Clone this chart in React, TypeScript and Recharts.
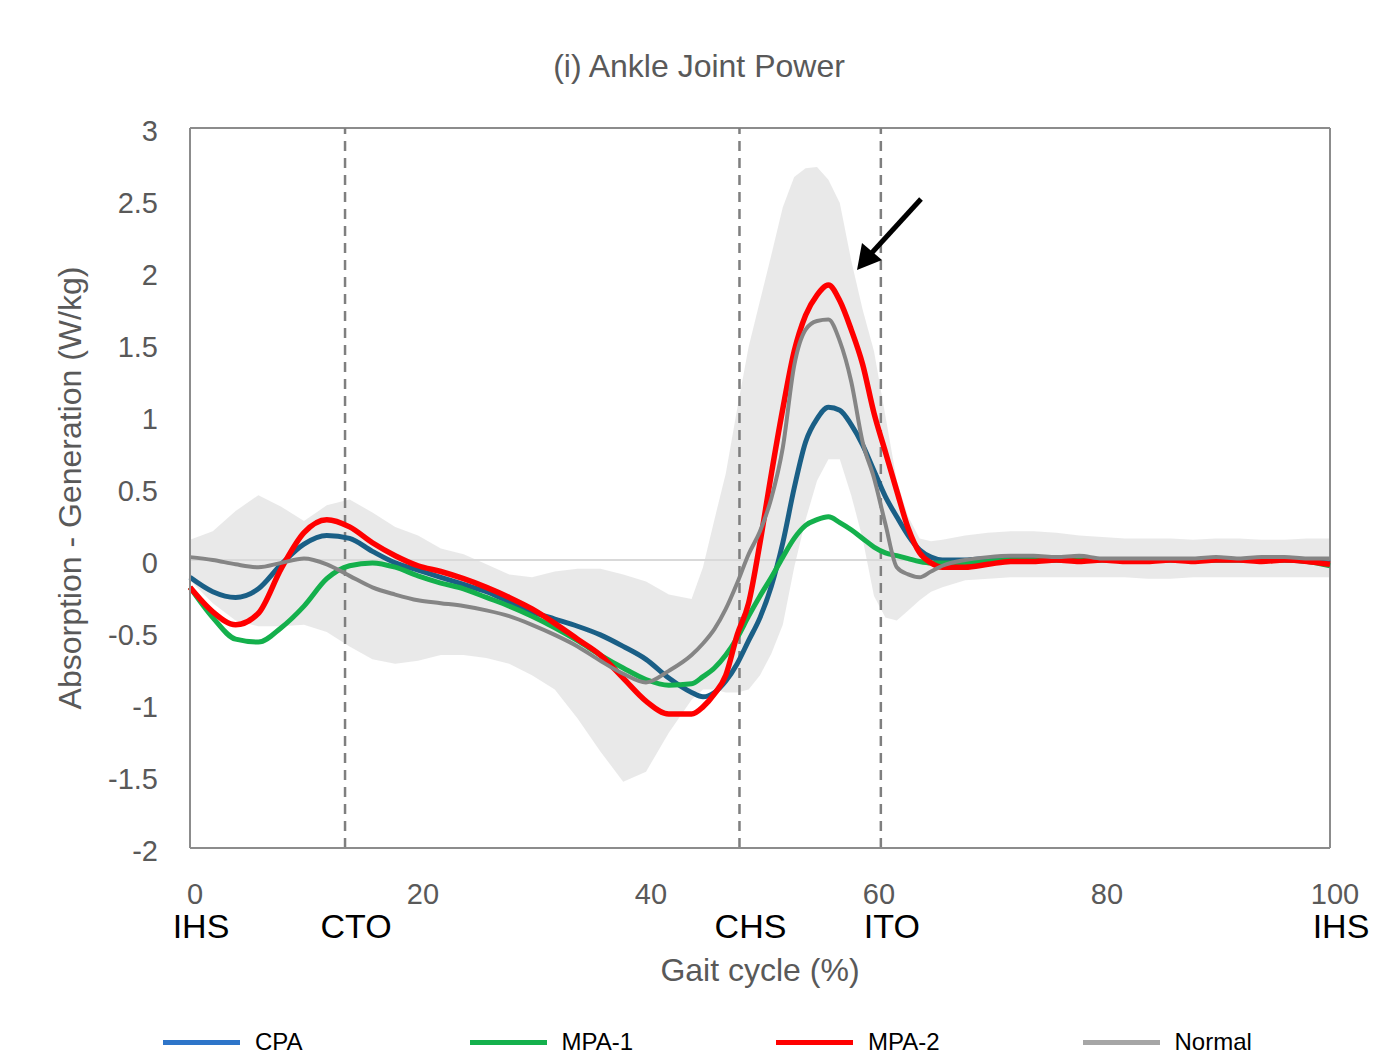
import React from "react";
import { ComposedChart, Line, Area, XAxis, YAxis, ReferenceLine } from "recharts";

// gait cycle (%) sample points: every 2% early/late, every 1% around push-off
const gaitCycle = [
  0, 2, 4, 6, 8, 10, 12, 14, 16, 18, 20, 22, 24, 26, 28, 30, 32, 34, 36, 38, 40, 42, 44,
  45, 46, 47, 48, 49, 50, 51, 52, 53, 54, 55, 56, 57, 58, 59, 60, 61, 62, 63, 64, 65, 66,
  68, 70, 72, 74, 76, 78, 80, 82, 84, 86, 88, 90, 92, 94, 96, 98, 100,
];

const cpa = [
  -0.12, -0.22, -0.26, -0.2, -0.03, 0.11, 0.17, 0.15, 0.06, -0.02, -0.07, -0.12, -0.17, -0.22, -0.29, -0.36, -0.41, -0.46, -0.52, -0.6, -0.69, -0.82, -0.92,
  -0.95, -0.92, -0.84, -0.72, -0.56, -0.4, -0.18, 0.12, 0.5, 0.82, 0.98, 1.06, 1.04, 0.94, 0.8, 0.62, 0.44, 0.3, 0.17, 0.07, 0.02, 0.0,
  0.0, 0.01, 0.01, 0.01, 0.0, 0.0, 0.0, 0.0, 0.0, 0.0, 0.0, 0.0, 0.0, 0.0, 0.0, -0.01, -0.02,
];

const mpa1 = [
  -0.19, -0.4, -0.55, -0.57, -0.47, -0.32, -0.13, -0.04, -0.02, -0.05, -0.11, -0.16, -0.2, -0.26, -0.32, -0.39, -0.47, -0.56, -0.66, -0.75, -0.83, -0.87, -0.86,
  -0.81, -0.75, -0.66, -0.54, -0.39, -0.25, -0.12, 0.02, 0.15, 0.24, 0.28, 0.3, 0.26, 0.21, 0.15, 0.09, 0.05, 0.03, 0.01, -0.01, -0.02, -0.02,
  -0.02, -0.01, 0.0, 0.0, 0.0, 0.0, 0.0, 0.0, 0.0, 0.0, 0.0, 0.0, 0.0, 0.0, 0.0, -0.01, -0.04,
];

const mpa2 = [
  -0.19, -0.36, -0.45, -0.37, -0.06, 0.19, 0.28, 0.23, 0.12, 0.03, -0.04, -0.08, -0.13, -0.19, -0.26, -0.34, -0.44, -0.55, -0.66, -0.82, -0.98, -1.07, -1.07,
  -1.02, -0.93, -0.8, -0.52, -0.3, 0.12, 0.6, 1.05, 1.45, 1.7, 1.84, 1.91, 1.8, 1.6, 1.36, 1.02, 0.75, 0.48, 0.22, 0.05, -0.02, -0.05,
  -0.05, -0.03, -0.01, -0.01, 0.0, -0.01, 0.0, -0.01, -0.01, 0.0, -0.01, 0.0, 0.0, -0.01, 0.0, -0.01, -0.03,
];

const normal = [
  0.02, 0.0, -0.03, -0.05, -0.02, 0.01, -0.03, -0.11, -0.19, -0.24, -0.28, -0.3, -0.32, -0.35, -0.39, -0.45, -0.52, -0.6, -0.7, -0.79, -0.85, -0.77, -0.66,
  -0.58, -0.48, -0.34, -0.16, 0.04, 0.2, 0.43, 0.78, 1.35, 1.6, 1.66, 1.67, 1.52, 1.24, 0.82, 0.57, 0.25, -0.05, -0.1, -0.12, -0.08, -0.04,
  0.0, 0.02, 0.03, 0.03, 0.02, 0.03, 0.01, 0.01, 0.01, 0.01, 0.01, 0.02, 0.01, 0.02, 0.02, 0.01, 0.01,
];

// normal group +/- 1 SD
const normalUpper = [
  0.14, 0.2, 0.34, 0.45, 0.37, 0.27, 0.38, 0.42, 0.33, 0.23, 0.17, 0.08, 0.04, -0.03, -0.1, -0.12, -0.08, -0.06, -0.06, -0.1, -0.15, -0.24, -0.27,
  -0.05, 0.28, 0.6, 1.05, 1.48, 1.8, 2.12, 2.45, 2.66, 2.72, 2.73, 2.64, 2.48, 2.08, 1.74, 1.45, 1.0, 0.55, 0.3, 0.15, 0.13, 0.14,
  0.17, 0.19, 0.2, 0.2, 0.19, 0.17, 0.16, 0.15, 0.15, 0.15, 0.14, 0.15, 0.15, 0.14, 0.14, 0.15, 0.15,
];

const normalLower = [
  -0.14, -0.3, -0.42, -0.46, -0.46, -0.45, -0.5, -0.6, -0.69, -0.72, -0.7, -0.66, -0.66, -0.68, -0.72, -0.8, -0.9, -1.1, -1.33, -1.54, -1.47, -1.2, -0.97,
  -0.9, -0.9, -0.92, -0.92, -0.9, -0.8, -0.65, -0.45, -0.05, 0.28, 0.55, 0.7, 0.7, 0.45, 0.15, -0.25, -0.4, -0.42, -0.35, -0.28, -0.22, -0.19,
  -0.14, -0.13, -0.12, -0.12, -0.12, -0.12, -0.12, -0.12, -0.13, -0.13, -0.12, -0.12, -0.12, -0.12, -0.12, -0.12, -0.12,
];

const xTicks = [0, 20, 40, 60, 80, 100];
const yTicks = [-2, -1.5, -1, -0.5, 0, 0.5, 1, 1.5, 2, 2.5, 3];

// gait events
const eventTicks = [0, 13.6, 48.2, 60.6, 100];
const eventLabels = ["IHS", "CTO", "CHS", "ITO", "IHS"];
const eventLines = [13.6, 48.2, 60.6];

const series = [
  { key: "cpa", name: "CPA", color: "#1a5f86", legend: "#2e75c9", width: 5 },
  { key: "mpa1", name: "MPA-1", color: "#14b04c", legend: "#14b04c", width: 5 },
  { key: "mpa2", name: "MPA-2", color: "#ff0000", legend: "#ff0000", width: 5.5 },
  { key: "normal", name: "Normal", color: "#858585", legend: "#a6a6a6", width: 4 },
];

const data = gaitCycle.map((g, i) => ({
  gait: g,
  cpa: cpa[i],
  mpa1: mpa1[i],
  mpa2: mpa2[i],
  normal: normal[i],
  band: [normalLower[i], normalUpper[i]],
}));

const FONT = "'Liberation Sans', Arial, sans-serif";

export default function App() {
  return (
    <div style={{ position: "absolute", left: 0, top: 0, width: 1398, height: 1056, background: "#fff", fontFamily: FONT }}>
      <div style={{ position: "absolute", top: 48, width: 1398, textAlign: "center", fontSize: 32, color: "#595959" }}>
        (i) Ankle Joint Power
      </div>

      <ComposedChart
        width={1398}
        height={1056}
        data={data}
        margin={{ top: 128, right: 68, left: 150, bottom: 148 }}
      >
        <XAxis
          xAxisId={0}
          dataKey="gait"
          type="number"
          domain={[0, 100]}
          ticks={xTicks}
          interval={0}
          height={30}
          tickSize={0}
          tickMargin={35}
          axisLine={{ stroke: "#8c8c8c", strokeWidth: 2 }}
          tickLine={false}
          tick={{ fontSize: 29, fill: "#595959", fontFamily: FONT, dx: 5 }}
        />
        <XAxis
          xAxisId={1}
          dataKey="gait"
          type="number"
          domain={[0, 100]}
          ticks={eventTicks}
          interval={0}
          height={30}
          tickSize={0}
          tickMargin={36}
          axisLine={false}
          tickLine={false}
          tickFormatter={(v) => eventLabels[eventTicks.indexOf(v)] ?? ""}
          tick={{ fontSize: 34, fill: "#000", fontFamily: FONT, dx: 11 }}
          label={{ value: "Gait cycle (%)", position: "bottom", offset: 50, fontSize: 32, fill: "#595959", fontFamily: FONT }}
        />
        <YAxis
          type="number"
          domain={[-2, 3]}
          ticks={yTicks}
          interval={0}
          width={40}
          tickSize={0}
          tickMargin={32}
          axisLine={{ stroke: "#8c8c8c", strokeWidth: 2 }}
          tickLine={false}
          tick={{ fontSize: 29, fill: "#595959", fontFamily: FONT, dy: 3 }}
          label={{
            value: "Absorption - Generation (W/kg)",
            angle: -90,
            position: "center",
            dx: -100,
            fontSize: 32,
            fill: "#595959",
            fontFamily: FONT,
          }}
        />

        <Area
          xAxisId={0}
          dataKey="band"
          type="linear"
          stroke="none"
          fill="#d4d4d4"
          fillOpacity={0.5}
          isAnimationActive={false}
          legendType="none"
        />

        <ReferenceLine xAxisId={0} y={0} stroke="#d9d9d9" strokeWidth={2} />
        <ReferenceLine xAxisId={0} y={3} stroke="#8c8c8c" strokeWidth={2} />
        <ReferenceLine xAxisId={0} x={100} stroke="#8c8c8c" strokeWidth={2} />
        {eventLines.map((x) => (
          <ReferenceLine key={x} xAxisId={0} x={x} stroke="#7f7f7f" strokeWidth={2.5} strokeDasharray="10 7" />
        ))}

        {series.map((s) => (
          <Line
            key={s.key}
            xAxisId={0}
            dataKey={s.key}
            name={s.name}
            type="monotone"
            stroke={s.color}
            strokeWidth={s.width}
            dot={false}
            isAnimationActive={false}
          />
        ))}
      </ComposedChart>

      <svg width={1398} height={1056} style={{ position: "absolute", left: 0, top: 0, pointerEvents: "none" }}>
        <line x1={921} y1={199} x2={868} y2={257} stroke="#000" strokeWidth={5} />
        <polygon points="857,270 862,243 882,260" fill="#000" />
      </svg>

      {series.map((s, i) => (
        <div
          key={s.key}
          style={{ position: "absolute", left: 163 + i * 306.5, top: 1028, display: "flex", alignItems: "center", fontSize: 24, color: "#000" }}
        >
          <span style={{ display: "inline-block", width: 77, height: 5, background: s.legend, marginRight: 15 }} />
          {s.name}
        </div>
      ))}
    </div>
  );
}
